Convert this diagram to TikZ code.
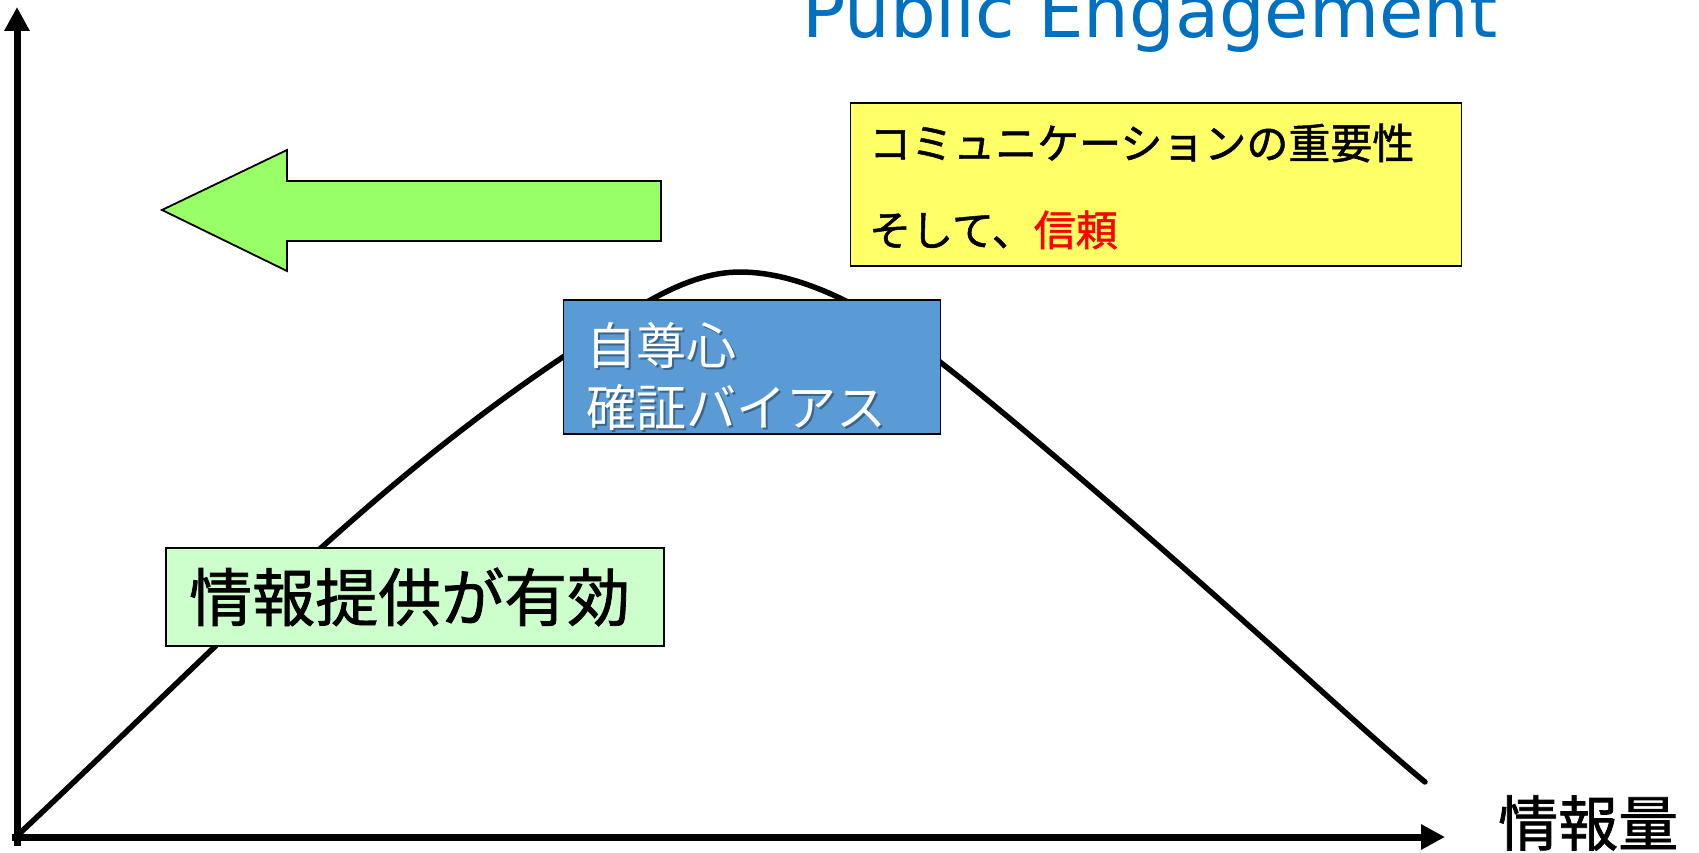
\documentclass[tikz,border=0pt]{standalone}
\usepackage{fontspec}
\usetikzlibrary{arrows.meta}
\newfontfamily\jp{Noto Sans CJK JP}
\newfontfamily\jpb[FakeBold=1.2]{Noto Sans CJK JP}
\newfontfamily\titlefont{DejaVu Sans}
\definecolor{titleblue}{RGB}{0,112,192}
\definecolor{yfill}{RGB}{255,255,102}
\definecolor{bfill}{RGB}{91,155,213}
\definecolor{gfill}{RGB}{204,255,204}
\definecolor{afill}{RGB}{153,255,102}
\begin{document}
\begin{tikzpicture}[x=1pt,y=-1pt,
  axis/.style={line width=7pt,-{Triangle[length=24pt,width=24pt]}},
  curve/.style={line width=5.5pt,line cap=round},
  boxs/.style={draw=black,line width=1.8pt,inner sep=0pt},
  jtext/.style={inner sep=0pt,anchor=west,font=\jp},
]
\useasboundingbox (0,0) rectangle (1699,853);
% axes
\coordinate (o1) at (17,846);
\coordinate (ytip) at (17,7);
\coordinate (o2) at (12,837);
\coordinate (xtip) at (1445,837);
\draw[axis] (o1) -- (ytip);
\draw[axis] (o2) -- (xtip);
% curve
\draw[curve] (19,834) .. controls (219,646) and (363,491) .. (563,357)
  .. controls (623,317) and (680,272) .. (740,272)
  .. controls (800,272) and (870,307) .. (940,362)
  .. controls (1020,424) and (1170,555) .. (1257,633)
  .. controls (1310,680) and (1380,745) .. (1425,782);
% green arrow
\draw[fill=afill,line width=1.8pt,line join=miter] (162,210) -- (287,150) -- (287,181) -- (661,181) -- (661,241) -- (287,241) -- (287,271) -- cycle;
% title
\node[inner sep=0pt,anchor=base west,text=titleblue,font=\titlefont\fontsize{72}{72}\selectfont] (title) at (802,38) {Public Engagement};
% yellow box
\node[boxs,fill=yfill,minimum width=611pt,minimum height=163pt] (ybox) at (1156,184.5) {};
\node[jtext,font=\jpb\fontsize{42}{42}\selectfont] (y1) at (869,143) {コミュニケーションの重要性};
\node[jtext,font=\jpb\fontsize{42}{42}\selectfont] (y2) at (869,230) {そして、\textcolor{red}{信頼}};
% blue box
\node[boxs,fill=bfill,minimum width=377pt,minimum height=134pt] (bbox) at (752,367) {};
\node[jtext,font=\jp\fontsize{50}{50}\selectfont,text=black,opacity=0.35] at (588,347) {自尊心};
\node[jtext,font=\jp\fontsize{50}{50}\selectfont,text=black,opacity=0.35] at (588,409) {確証バイアス};
\node[jtext,font=\jp\fontsize{50}{50}\selectfont,text=white] (b1) at (586,345) {自尊心};
\node[jtext,font=\jp\fontsize{50}{50}\selectfont,text=white] (b2) at (586,407) {確証バイアス};
% green box
\node[boxs,fill=gfill,minimum width=498pt,minimum height=98pt] (gbox) at (415,597) {};
\node[jtext,font=\jpb\fontsize{63}{63}\selectfont] (g1) at (189,597) {情報提供が有効};
% x label
\node[jtext,font=\jpb\fontsize{60}{60}\selectfont] (xl) at (1498,823) {情報量};
\end{tikzpicture}
\end{document}
